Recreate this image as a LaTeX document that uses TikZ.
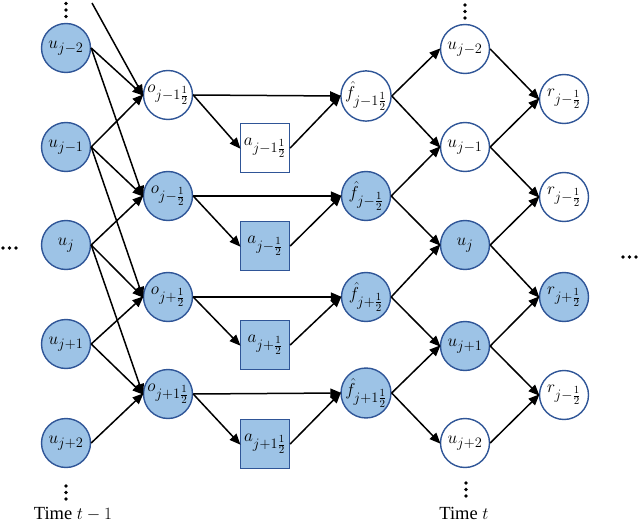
\documentclass[tikz,border=0pt]{standalone}
\usepackage{fontspec}
\setmainfont{Liberation Serif}
\DeclareMathSizes{18}{18}{14.5}{11}
\usetikzlibrary{arrows.meta}
\definecolor{fillblue}{RGB}{157,195,230}
\definecolor{edgeblue}{RGB}{47,85,151}
\begin{document}
\begin{tikzpicture}[x=1pt,y=-1pt,
  cnode/.style={circle,draw=edgeblue,line width=1.4pt,minimum size=49pt,inner sep=0pt,font=\fontsize{18}{22}\selectfont},
  snode/.style={rectangle,draw=edgeblue,line width=1.4pt,minimum size=49pt,inner sep=0pt,font=\fontsize{18}{22}\selectfont},
  full/.style={fill=fillblue},
  blank/.style={fill=white},
  arr/.style={-{Triangle[length=11pt,width=9pt]},line width=1.5pt,shorten >=-1pt},
  dot/.style={fill=black},
  timelabel/.style={font=\fontsize{18.5}{20}\selectfont,inner sep=0pt}]
\useasboundingbox (0,0) rectangle (640,524);
% left u column
\node[cnode,full] (ua1) at (66,48) {$u_{j-2}$};
\node[cnode,full] (ua2) at (66,147) {$u_{j-1}$};
\node[cnode,full] (ua3) at (66,245) {$u_{j}$};
\node[cnode,full] (ua4) at (66,344) {$u_{j+1}$};
\node[cnode,full] (ua5) at (66,443) {$u_{j+2}$};
% o column
\node[cnode,blank] (o1) at (168,95) {$o_{j-1\frac{1}{2}}$};
\node[cnode,full] (o2) at (168,196) {$o_{j-\frac{1}{2}}$};
\node[cnode,full] (o3) at (168,297) {$o_{j+\frac{1}{2}}$};
\node[cnode,full] (o4) at (168,394) {$o_{j+1\frac{1}{2}}$};
% a column
\node[snode,blank] (a1) at (265,148) {$a_{j-1\frac{1}{2}}$};
\node[snode,full] (a2) at (265,246) {$a_{j-\frac{1}{2}}$};
\node[snode,full] (a3) at (265,345) {$a_{j+\frac{1}{2}}$};
\node[snode,full] (a4) at (265,444) {$a_{j+1\frac{1}{2}}$};
% f column
\node[cnode,blank] (f1) at (366,96) {$\hat{f}_{j-1\frac{1}{2}}$};
\node[cnode,full] (f2) at (366,196) {$\hat{f}_{j-\frac{1}{2}}$};
\node[cnode,full] (f3) at (366,297) {$\hat{f}_{j+\frac{1}{2}}$};
\node[cnode,full] (f4) at (366,393) {$\hat{f}_{j+1\frac{1}{2}}$};
% right u column
\node[cnode,blank] (ub1) at (465,49) {$u_{j-2}$};
\node[cnode,blank] (ub2) at (465,147) {$u_{j-1}$};
\node[cnode,full] (ub3) at (465,245) {$u_{j}$};
\node[cnode,full] (ub4) at (465,346) {$u_{j+1}$};
\node[cnode,blank] (ub5) at (465,443) {$u_{j+2}$};
% r column
\node[cnode,blank] (r1) at (564,99) {$r_{j-\frac{1}{2}}$};
\node[cnode,blank] (r2) at (564,197) {$r_{j-\frac{1}{2}}$};
\node[cnode,full] (r3) at (564,297) {$r_{j+\frac{1}{2}}$};
\node[cnode,blank] (r4) at (564,395) {$r_{j-\frac{1}{2}}$};
% incoming edge from outside the picture
\coordinate (top) at (92,3);
\draw[arr] (top) -- (o1.west);
% u(t-1) -> o
\draw[arr] (ua1.east) -- (o1.west);
\draw[arr] (ua1.east) -- (o2.west);
\draw[arr] (ua2.east) -- (o1.west);
\draw[arr] (ua2.east) -- (o2.west);
\draw[arr] (ua2.east) -- (o3.west);
\draw[arr] (ua3.east) -- (o2.west);
\draw[arr] (ua3.east) -- (o3.west);
\draw[arr] (ua3.east) -- (o4.west);
\draw[arr] (ua4.east) -- (o3.west);
\draw[arr] (ua4.east) -- (o4.west);
\draw[arr] (ua5.east) -- (o4.west);
% o -> f, o -> a, a -> f
\foreach \i in {1,2,3,4}{
  \draw[arr] (o\i.east) -- (f\i.west);
  \draw[arr] (o\i.east) -- (a\i.west);
  \draw[arr] (a\i.east) -- (f\i.west);
}
% f -> u(t)
\draw[arr] (f1.east) -- (ub1.west);
\draw[arr] (f1.east) -- (ub2.west);
\draw[arr] (f2.east) -- (ub2.west);
\draw[arr] (f2.east) -- (ub3.west);
\draw[arr] (f3.east) -- (ub3.west);
\draw[arr] (f3.east) -- (ub4.west);
\draw[arr] (f4.east) -- (ub4.west);
\draw[arr] (f4.east) -- (ub5.west);
% u(t) -> r
\draw[arr] (ub1.east) -- (r1.west);
\draw[arr] (ub2.east) -- (r1.west);
\draw[arr] (ub2.east) -- (r2.west);
\draw[arr] (ub3.east) -- (r2.west);
\draw[arr] (ub3.east) -- (r3.west);
\draw[arr] (ub4.east) -- (r3.west);
\draw[arr] (ub4.east) -- (r4.west);
\draw[arr] (ub5.east) -- (r4.west);
% dots
\foreach \yy in {3.5,10,16.5} \fill[dot] (66,\yy) circle (1.9pt);
\foreach \yy in {486,492.5,499} \fill[dot] (66,\yy) circle (1.9pt);
\foreach \yy in {5,11.5,18} \fill[dot] (465,\yy) circle (1.9pt);
\foreach \yy in {483,489.5,496} \fill[dot] (466,\yy) circle (1.9pt);
\foreach \xx in {3,9.5,16} \fill[dot] (\xx,248) circle (1.9pt);
\foreach \xx in {623,629.5,636} \fill[dot] (\xx,257) circle (1.9pt);
% time labels
\node[timelabel,anchor=base] (t0) at (73,519) {Time $t-1$};
\node[timelabel,anchor=base] (t1) at (464,519) {Time $t$};
\end{tikzpicture}
\end{document}
